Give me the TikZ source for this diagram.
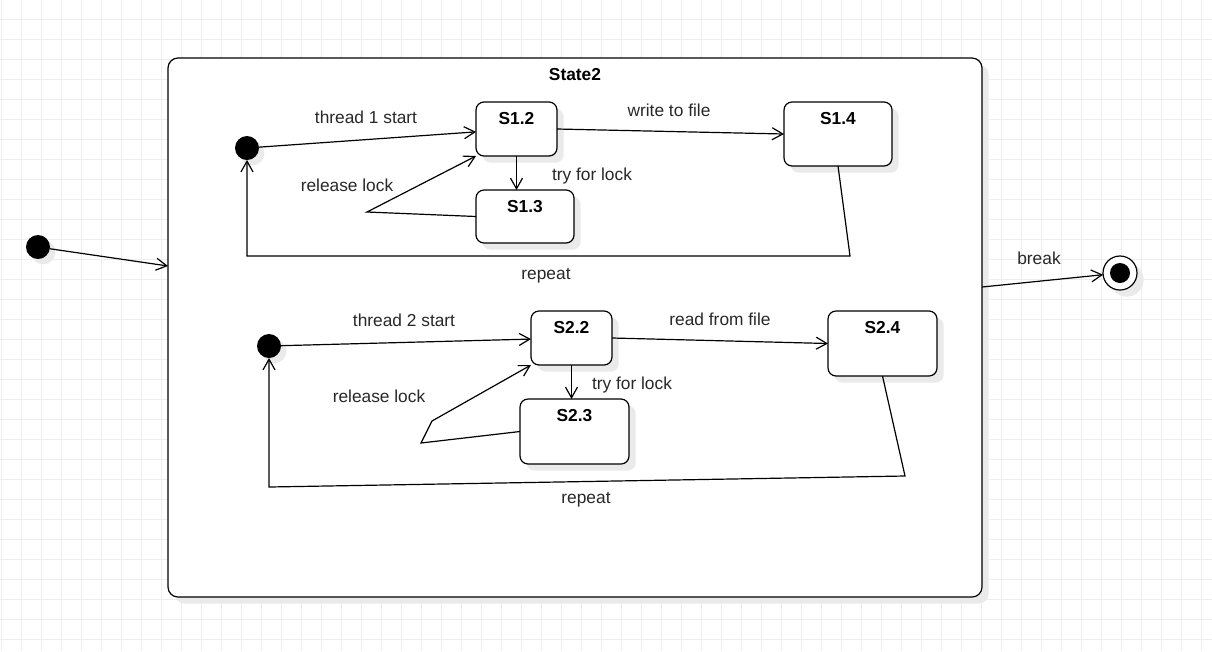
\documentclass[tikz,border=0pt]{standalone}
\usepackage{fontspec}
\setmainfont{Liberation Sans}
\usepackage{xcolor}
\definecolor{gridgray}{RGB}{238,238,238}
\definecolor{shadegray}{RGB}{234,234,234}
\definecolor{inkgray}{RGB}{40,40,40}
\usetikzlibrary{arrows.meta,shadows}
\tikzset{
  st/.style={draw=black,line width=0.9pt,rounded corners=6pt,fill=white,inner sep=0pt,outer sep=0pt,
    drop shadow={shadow xshift=5pt,shadow yshift=-5pt,fill=shadegray,opacity=1}},
  sttitle/.style={font=\fontsize{13}{15}\selectfont\bfseries,text=black},
  initdot/.style={circle,fill=black,minimum size=18pt,inner sep=0pt,outer sep=0pt,
    drop shadow={shadow xshift=4pt,shadow yshift=-4pt,fill=shadegray,opacity=1}},
  trans/.style={line width=0.9pt,-{Straight Barb[length=8pt,width=9pt]}},
  tlabel/.style={font=\fontsize{13}{15}\selectfont,text=inkgray},
  gridline/.style={gridgray,line width=0.75pt}
}

\begin{document}
\begin{tikzpicture}[x=0.75pt,y=-0.75pt]
\useasboundingbox (0,0) rectangle (1212,651);
% ---- background grid ----
\foreach \gx in {1,21,...,1211}{ \draw[gridline] (\gx,0) -- (\gx,651);}
\foreach \gy in {19,39,...,649}{ \draw[gridline] (0,\gy) -- (1212,\gy);}

% ---- composite state ----
\node[st,rounded corners=7.5pt,minimum width=610.5pt,minimum height=404.25pt] (state2) at (575,327.5) {};
\node[sttitle] (state2t) at (575,75) {State2};

% ---- outer initial / final ----
\node[initdot] (d0) at (38,247) {};
\coordinate (inA) at (168,266);
\draw[trans] (d0) -- (inA);
\node[circle,draw=black,line width=0.9pt,fill=white,minimum size=25.5pt,inner sep=0pt,outer sep=0pt,
  drop shadow={shadow xshift=5pt,shadow yshift=-5pt,fill=shadegray,opacity=1}] (fin) at (1120,273) {};
\node[circle,fill=black,minimum size=15pt,inner sep=0pt] (finc) at (fin) {};
\coordinate (outA) at (982,287);
\draw[trans] (outA) -- (fin);
\node[tlabel] (lbreak) at (1039,258) {break};

% ---- thread 1 ----
\node[initdot] (d1) at (247,148) {};
\node[st,minimum width=60.75pt,minimum height=40.5pt,
  label={[sttitle,anchor=north,yshift=-4pt]north:S1.2}] (s12) at (516.5,129) {};
\node[st,minimum width=73.5pt,minimum height=39.75pt,
  label={[sttitle,anchor=north,yshift=-4pt]north:S1.3}] (s13) at (525,216.5) {};
\node[st,minimum width=81pt,minimum height=48pt,
  label={[sttitle,anchor=north,yshift=-4pt]north:S1.4}] (s14) at (838,134) {};
\draw[trans] (d1) -- (s12);
\draw[trans] (s12.east) -- (s14.west);
\draw[trans] (s12.south) -- (s12.south |- s13.north);
\coordinate (rl1) at (367,212);
\draw[trans] (s13.west) -- (rl1) -- (s12.south west);
\coordinate (rp1a) at (850,256);
\coordinate (rp1b) at (247,256);
\draw[trans] (s14.south) -- (rp1a) -- (rp1b) -- (d1.south);
\node[tlabel] (lt1) at (366,117) {thread 1 start};
\node[tlabel] (lw1) at (669,110) {write to file};
\node[tlabel] (ltry1) at (592,176) {try for lock};
\node[tlabel] (lrel1) at (347,185) {release lock};
\node[tlabel] (lrep1) at (546,276) {repeat};

% ---- thread 2 ----
\node[initdot] (d2) at (269,346) {};
\node[st,minimum width=60.75pt,minimum height=40.5pt,
  label={[sttitle,anchor=north,yshift=-4pt]north:S2.2}] (s22) at (571.5,338) {};
\node[st,minimum width=81.75pt,minimum height=48.75pt,
  label={[sttitle,anchor=north,yshift=-4pt]north:S2.3}] (s23) at (574.5,431.5) {};
\node[st,minimum width=81.75pt,minimum height=48.75pt,
  label={[sttitle,anchor=north,yshift=-4pt]north:S2.4}] (s24) at (882.5,343.5) {};
\draw[trans] (d2) -- (s22);
\draw[trans] (s22.east) -- (s24.west);
\draw[trans] (s22.south) -- (s22.south |- s23.north);
\coordinate (rl2a) at (421,443);
\coordinate (rl2b) at (432,421);
\draw[trans] (s23.west) -- (rl2a) -- (rl2b) -- (s22.south west);
\coordinate (rp2a) at (905,476);
\coordinate (rp2b) at (269,487);
\draw[trans] (s24.south) -- (rp2a) -- (rp2b) -- (d2.south);
\node[tlabel] (lt2) at (404,320) {thread 2 start};
\node[tlabel] (lr2) at (720,319) {read from file};
\node[tlabel] (ltry2) at (632,385) {try for lock};
\node[tlabel] (lrel2) at (379,396) {release lock};
\node[tlabel] (lrep2) at (586,500) {repeat};
\end{tikzpicture}
\end{document}
